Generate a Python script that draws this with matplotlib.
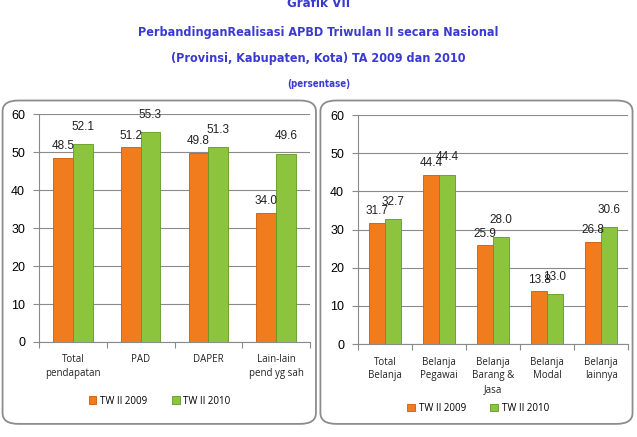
import matplotlib.pyplot as plt
from matplotlib.patches import FancyBboxPatch

# data
cat_pend = ['Total\npendapatan', 'PAD', 'DAPER', 'Lain-lain\npend yg sah']
pend_2009 = [48.5, 51.2, 49.8, 34.0]
pend_2010 = [52.1, 55.3, 51.3, 49.6]

cat_bel = ['Total\nBelanja', 'Belanja\nPegawai', 'Belanja\nBarang &\nJasa', 'Belanja\nModal', 'Belanja\nlainnya']
bel_2009 = [31.7, 44.4, 25.9, 13.8, 26.8]
bel_2010 = [32.7, 44.4, 28.0, 13.0, 30.6]

series_names = ['TW II 2009', 'TW II 2010']
c_orange = '#F07C1E'
c_green = '#8CC43E'
title_color = '#3A3AD2'

fig = plt.figure(figsize=(6.37, 4.37), dpi=100)
fig.patch.set_facecolor('white')

# rounded panel boxes
for x0, w in [(0.004, 0.492), (0.503, 0.49)]:
    box = FancyBboxPatch((x0, 0.03), w, 0.74, boxstyle='round,pad=0,rounding_size=0.025',
                         transform=fig.transFigure, facecolor='white', edgecolor='#8c8c8c',
                         linewidth=1.3, zorder=-5)
    fig.patches.append(box)

title_font = dict(family='DejaVu Sans', stretch='condensed', weight='bold', color=title_color,
                  ha='center', va='center')
fig.text(0.5, 0.992, 'Grafik VII', fontsize=9.5, **title_font)
fig.text(0.5, 0.925, 'PerbandinganRealisasi APBD Triwulan II secara Nasional', fontsize=9, **title_font)
fig.text(0.5, 0.867, '(Provinsi, Kabupaten, Kota) TA 2009 dan 2010', fontsize=9, **title_font)
fig.text(0.5, 0.807, '(persentase)', fontsize=7, **title_font)


def draw(ax, cats, v1, v2, leg_y):
    n = len(cats)
    xs = list(range(n))
    w = 0.29
    b1 = ax.bar([x - w / 2 for x in xs], v1, w, color=c_orange, edgecolor='#C85A0A', linewidth=0.6,
                label=series_names[0], zorder=3)
    b2 = ax.bar([x + w / 2 for x in xs], v2, w, color=c_green, edgecolor='#5E9A22', linewidth=0.6,
                label=series_names[1], zorder=3)
    for bars, vals, dy in [(b1, v1, 4), (b2, v2, 8)]:
        for r, v in zip(bars, vals):
            ax.annotate('%.1f' % v, (r.get_x() + r.get_width() / 2, v), xytext=(0, dy),
                        textcoords='offset points', ha='center', va='bottom', fontsize=8.5,
                        family='Liberation Sans', color='#222222', zorder=4)
    ax.set_facecolor('none')
    ax.set_ylim(0, 60)
    ax.set_xlim(-0.5, n - 0.5)
    ax.set_yticks(range(0, 61, 10))
    ax.yaxis.grid(True, color='#8a8a8a', linewidth=0.8, zorder=0)
    ax.set_axisbelow(True)
    ax.set_xticks([x + 0.5 for x in range(-1, n)])
    ax.set_xticklabels([])
    ax.set_xticks(xs, minor=True)
    ax.set_xticklabels(cats, minor=True, fontsize=7, family='Open Sans', color='#222222', va='top',
                       linespacing=1.35)
    ax.tick_params(axis='x', which='minor', length=0, pad=9)
    ax.tick_params(axis='x', which='major', length=4, color='#8a8a8a', direction='out')
    ax.tick_params(axis='y', length=4, color='#8a8a8a', labelsize=9, pad=6)
    for lab in ax.get_yticklabels():
        lab.set_family('Liberation Sans')
    for s in ['top', 'right']:
        ax.spines[s].set_visible(False)
    ax.spines['left'].set_color('#8a8a8a')
    ax.spines['bottom'].set_color('#8a8a8a')
    ax.legend(loc='center', bbox_to_anchor=(0.445, leg_y), ncol=2, frameon=False,
              prop={'family': 'Open Sans', 'size': 7}, handlelength=0.8, handleheight=0.8,
              columnspacing=2.5, handletextpad=0.4)


ax1 = fig.add_axes([0.0612, 0.2174, 0.4255, 0.5216])
draw(ax1, cat_pend, pend_2009, pend_2010, -0.259)

ax2 = fig.add_axes([0.562, 0.2128, 0.424, 0.524])
draw(ax2, cat_bel, bel_2009, bel_2010, -0.28)

fig.savefig('out.png', dpi=100)
